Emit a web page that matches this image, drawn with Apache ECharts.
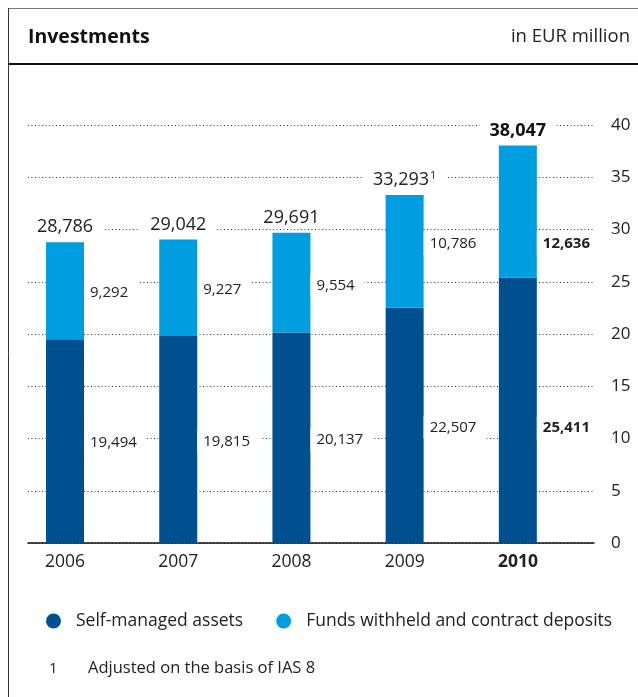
<!DOCTYPE html>
<html><head><meta charset="utf-8">
<script src="https://cdn.jsdelivr.net/npm/echarts@6/dist/echarts.min.js"></script>
<style>html,body{margin:0;padding:0;background:#fff}#c{width:638px;height:697px}</style>
</head><body><div id="c"></div>
<script>
const years = ['2006','2007','2008','2009','2010'];
const selfManaged = [19494, 19815, 20137, 22507, 25411];
const fundsWithheld = [9292, 9227, 9554, 10786, 12636];
const totals = [28786, 29042, 29691, 33293, 38047];
const totalNotes = ['', '', '', '1', ''];
const yTicks = [0, 5, 10, 15, 20, 25, 30, 35, 40];

const FONT = 'Open Sans';
const DARK = '#00508f';
const LIGHT = '#009ee0';
const fmt = v => v.toLocaleString('en-US');
const toBn = v => v / 1000;
const lastIdx = years.length - 1;

const segLabel = (extra) => Object.assign({
  show: true, position: 'right', distance: 0,
  fontFamily: FONT, fontSize: 15, color: '#222',
  backgroundColor: '#fff', padding: [5, 10, 3, 6]
}, extra);

const darkOffsets = [[0,2],[0,2],[0,2],[0,2],[0,18]];
const lightOffsets = [[0,2],[0,2],[0,3],[0,-8],[0,32]];

const chart = echarts.init(document.getElementById('c'), null, {renderer: 'canvas'});
chart.setOption({
  animation: false,
  textStyle: {fontFamily: FONT},
  title: [
    {text: 'Investments', left: 23, top: 22, textStyle: {fontFamily: FONT, fontSize: 19.5, fontWeight: 'bold', color: '#111'}},
    {text: 'in EUR million', right: 3, top: 22, textStyle: {fontFamily: FONT, fontSize: 18.5, fontWeight: 'normal', color: '#222'}},
    {text: '1', left: 44, top: 656, textStyle: {fontFamily: FONT, fontSize: 15, fontWeight: 'normal', color: '#222'}},
    {text: 'Adjusted on the basis of IAS 8', left: 83, top: 655, textStyle: {fontFamily: FONT, fontSize: 16.5, fontWeight: 'normal', color: '#222'}}
  ],
  graphic: [
    {type: 'line', shape: {x1: 8, y1: 8.5, x2: 638, y2: 8.5}, style: {stroke: '#777', lineWidth: 1}},
    {type: 'line', shape: {x1: 8.5, y1: 8, x2: 8.5, y2: 697}, style: {stroke: '#333', lineWidth: 1}},
    {type: 'line', shape: {x1: 8, y1: 64, x2: 638, y2: 64}, style: {stroke: '#111', lineWidth: 2}}
  ],
  legend: {
    data: ['Self-managed assets', 'Funds withheld and contract deposits'],
    left: 41, top: 607, icon: 'circle', itemWidth: 15, itemHeight: 15, itemGap: 33,
    textStyle: {fontFamily: FONT, fontSize: 17.5, color: '#222', padding: [0, 0, 0, 10]}
  },
  grid: {left: 28, right: 44, top: 125, bottom: 154},
  xAxis: {
    type: 'category', data: years.map((y, i) => i === lastIdx ? {value: y, textStyle: {fontWeight: 'bold'}} : y),
    axisTick: {show: false},
    axisLine: {lineStyle: {color: '#111', width: 1.5}},
    axisLabel: {fontFamily: FONT, fontSize: 17.5, color: '#222', margin: 10, padding: [0, 39, 0, 0]}
  },
  yAxis: {
    type: 'value', position: 'right', min: 0, max: 40, interval: 5,
    axisLine: {show: false}, axisTick: {show: false},
    axisLabel: {fontFamily: FONT, fontSize: 17, color: '#222', margin: 17, align: 'left',
      formatter: v => yTicks.includes(v) ? String(v) : ''},
    splitLine: {lineStyle: {color: '#333', width: 1, type: [1, 2.5]}}
  },
  series: [
    {
      name: 'Self-managed assets', type: 'bar', stack: 'a', barWidth: 38, barGap: '3%',
      itemStyle: {color: DARK},
      data: selfManaged.map((v, i) => ({
        value: toBn(v),
        label: segLabel({offset: darkOffsets[i], fontWeight: i === lastIdx ? 'bold' : 'normal', formatter: () => fmt(v)})
      }))
    },
    {
      name: 'Funds withheld and contract deposits', type: 'bar', stack: 'a', barWidth: 38,
      itemStyle: {color: LIGHT},
      data: fundsWithheld.map((v, i) => ({
        value: toBn(v),
        label: segLabel({offset: lightOffsets[i], fontWeight: i === lastIdx ? 'bold' : 'normal', formatter: () => fmt(v)})
      }))
    },
    {
      name: 'total', type: 'bar', stack: 'a', barWidth: 38, silent: true,
      itemStyle: {color: 'rgba(0,0,0,0)'},
      data: totals.map((v, i) => ({
        value: 0,
        label: {
          show: true, position: 'top', distance: 4,
          backgroundColor: '#fff', padding: [2, 10, 2, 10],
          formatter: () => '{' + (i === lastIdx ? 'b' : 'n') + '|' + fmt(v) + '}' + (totalNotes[i] ? '{s|' + totalNotes[i] + '}' : ''),
          rich: {
            n: {fontFamily: FONT, fontSize: 18, color: '#222'},
            b: {fontFamily: FONT, fontSize: 18, color: '#111', fontWeight: 'bold'},
            s: {fontFamily: FONT, fontSize: 11, color: '#222', verticalAlign: 'top', padding: [0, 0, 8, 1]}
          }
        }
      }))
    },
    {
      name: 'offset', type: 'bar', stack: 'b', barWidth: 38, silent: true,
      itemStyle: {color: 'rgba(0,0,0,0)'},
      data: years.map(() => 0)
    }
  ]
});
</script>
</body></html>
